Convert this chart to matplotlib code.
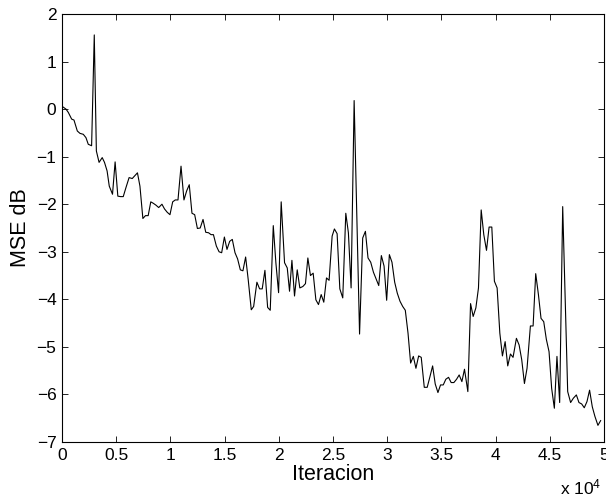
import matplotlib
matplotlib.use("Agg")
import matplotlib.pyplot as plt
import numpy as np

plt.rcParams['font.family'] = ['Liberation Sans', 'DejaVu Sans']
plt.rcParams['mathtext.default'] = 'regular'

# iteration (x) and MSE in dB (y)
iteracion = [0, 369, 583, 890, 1105, 1412, 1657, 1964, 2210, 2424, 2731, 2977,
             3170, 3420, 3710, 3920, 4160, 4360, 4660, 4900, 5150, 5400, 5650, 5900,
             6190, 6480, 6960, 7190, 7460, 7700, 7950, 8190, 8420, 8670, 8920, 9220,
             9460, 9710, 9960, 10210, 10450, 10700, 10980, 11250, 11500, 11740, 11990,
             12240, 12490, 12750, 13010, 13260, 13520, 13750, 13970, 14240, 14490,
             14730, 14980, 15220, 15470, 15710, 15960, 16200, 16450, 16690, 16940,
             17180, 17460, 17680, 17980, 18230, 18470, 18720, 18970, 19210, 19490,
             19730, 19980, 20220, 20530, 20780, 20990, 21210, 21450, 21700, 21940,
             22220, 22460, 22680, 22920, 23170, 23420, 23660, 23910, 24150, 24400,
             24640, 24920, 25130, 25380, 25630, 25900, 26180, 26420, 26670, 26950,
             27450, 27740, 27990, 28230, 28480, 28730, 28970, 29220, 29460, 29710,
             29950, 30200, 30440, 30690, 30930, 31180, 31430, 31670, 31920, 32160,
             32410, 32650, 32900, 33140, 33420, 33690, 33940, 34190, 34430, 34680,
             34920, 35170, 35410, 35660, 35900, 36150, 36400, 36640, 36890, 37130,
             37440, 37690, 37930, 38180, 38420, 38670, 38910, 39160, 39400, 39650,
             39890, 40140, 40390, 40630, 40880, 41120, 41370, 41610, 41920, 42170,
             42410, 42660, 42900, 43210, 43460, 43700, 43950, 44190, 44440, 44680,
             44930, 45170, 45420, 45660, 45910, 46190, 46650, 46920, 47170, 47450,
             47690, 47940, 48180, 48430, 48670, 48920, 49160, 49440, 49690]

mse_db = [0.06, 0.0, -0.07, -0.21, -0.23, -0.46, -0.51, -0.53, -0.60, -0.74, -0.77, 1.56,
          -0.88, -1.12, -1.02, -1.12, -1.30, -1.62, -1.79, -1.11, -1.83, -1.84, -1.84, -1.65,
          -1.44, -1.46, -1.34, -1.62, -2.30, -2.24, -2.24, -1.95, -1.98, -2.02, -2.07, -2.00,
          -2.10, -2.17, -2.22, -1.95, -1.91, -1.91, -1.20, -1.91, -1.72, -1.59, -2.19,
          -2.22, -2.51, -2.50, -2.32, -2.59, -2.60, -2.64, -2.64, -2.88, -3.00,
          -3.02, -2.69, -2.95, -2.78, -2.74, -3.02, -3.15, -3.38, -3.40, -3.11,
          -3.59, -4.22, -4.15, -3.64, -3.78, -3.78, -3.39, -4.17, -4.23, -2.45,
          -3.23, -3.86, -1.95, -3.23, -3.34, -3.83, -3.18, -3.93, -3.38, -3.76,
          -3.73, -3.67, -3.13, -3.50, -3.45, -4.01, -4.11, -3.90, -4.06, -3.55,
          -3.60, -2.67, -2.52, -2.62, -3.78, -3.97, -2.19, -2.60, -3.76, 0.18,
          -4.73, -2.71, -2.57, -3.13, -3.22, -3.43, -3.57, -3.71, -3.08, -3.30,
          -4.02, -3.06, -3.22, -3.64, -3.87, -4.04, -4.15, -4.23, -4.71, -5.34,
          -5.20, -5.45, -5.19, -5.22, -5.85, -5.85, -5.63, -5.40, -5.78, -5.96,
          -5.80, -5.80, -5.68, -5.64, -5.75, -5.75, -5.68, -5.59, -5.73, -5.47,
          -5.94, -4.09, -4.36, -4.18, -3.76, -2.12, -2.64, -2.97, -2.48, -2.48,
          -3.62, -3.76, -4.71, -5.19, -4.89, -5.40, -5.15, -5.22, -4.82, -4.96,
          -5.27, -5.77, -5.45, -4.56, -4.56, -3.46, -3.90, -4.40, -4.47, -4.84,
          -5.10, -5.87, -6.29, -5.20, -6.17, -2.05, -5.94, -6.17, -6.08, -6.01,
          -6.17, -6.20, -6.28, -6.15, -5.91, -6.26, -6.46, -6.65, -6.55]

xticks = [0, 5000, 10000, 15000, 20000, 25000, 30000, 35000, 40000, 45000, 50000]
xticklabels = ['0', '0.5', '1', '1.5', '2', '2.5', '3', '3.5', '4', '4.5', '5']
yticks = [-7, -6, -5, -4, -3, -2, -1, 0, 1, 2]

fig = plt.figure(figsize=(6.06, 4.98), dpi=100)
ax = fig.add_axes([62/606, 1 - 442/498, (604 - 62)/606, (442 - 14)/498])

ax.plot(iteracion, mse_db, color='black', linewidth=0.8)

ax.set_xlim(0, 50000)
ax.set_ylim(-7, 2)
ax.set_xticks(xticks)
ax.set_xticklabels(xticklabels)
ax.set_yticks(yticks)
ax.tick_params(direction='in', length=4, width=0.6, top=True, right=True,
               labelsize=12.5, pad=4, colors='black')
for s in ax.spines.values():
    s.set_linewidth(0.8)
    s.set_color('black')

ax.set_xlabel('Iteracion', fontsize=15.5, labelpad=1)
ax.set_ylabel('MSE dB', fontsize=15.5, labelpad=4)

fig.text(601/606, 1 - 494/498, r'x 10$^{4}$', ha='right', va='baseline', fontsize=12.5)

fig.savefig('out.png', dpi=100)
